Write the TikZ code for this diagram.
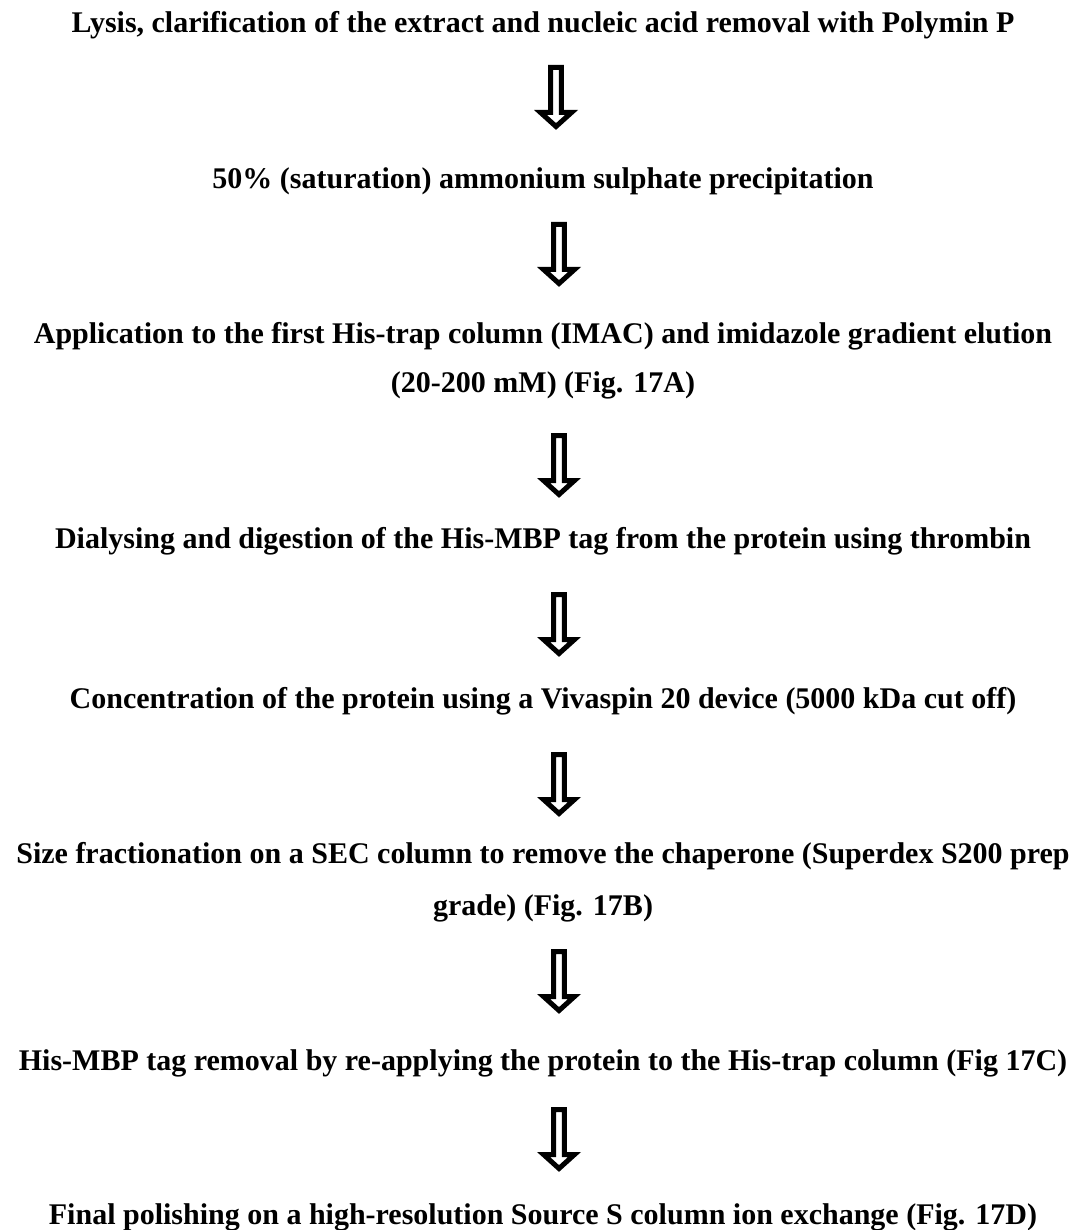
\documentclass[tikz,border=0pt]{standalone}
\usepackage{fontspec}
\setmainfont{Liberation Serif}
\begin{document}
\begin{tikzpicture}[x=1pt,y=-1pt,
  txt/.style={anchor=base, inner sep=0pt, font=\bfseries\fontsize{30}{33}\selectfont},
  flowarrow/.pic={\draw[line width=5, fill=white, line join=miter, miter limit=10]
     (-5.35,2.5) -- (-5.35,47.5) -- (-15.5,47.5) -- (0,61.5) -- (15.5,47.5) -- (5.35,47.5) -- (5.35,2.5) -- cycle;}]
\fill[white] (0,0) rectangle (1086,1230);
\useasboundingbox (0,0) rectangle (1086,1230);
\node[txt] (s1) at (543,33) {Lysis, clarification of the extract and nucleic acid removal with Polymin P};
\node[txt] (s2) at (543,189) {50\% (saturation) ammonium sulphate precipitation};
\node[txt] (s3a) at (543,343) {Application to the first His-trap column (IMAC) and imidazole gradient elution};
\node[txt] (s3b) at (543,392) {(20-200 mM) (Fig. 17A)};
\node[txt] (s4) at (543,548) {Dialysing and digestion of the His-MBP tag from the protein using thrombin};
\node[txt] (s5) at (543,708) {Concentration of the protein using a Vivaspin 20 device (5000 kDa cut off)};
\node[txt] (s6a) at (543,863) {Size fractionation on a SEC column to remove the chaperone (Superdex S200 prep};
\node[txt] (s6b) at (543,915) {grade) (Fig. 17B)};
\node[txt] (s7) at (543,1070) {His-MBP tag removal by re-applying the protein to the His-trap column (Fig 17C)};
\node[txt] (s8) at (543,1224) {Final polishing on a high-resolution Source S column ion exchange (Fig. 17D)};
\pic at (556,65) {flowarrow};
\pic at (559,222) {flowarrow};
\pic at (559,433) {flowarrow};
\pic at (559,592) {flowarrow};
\pic at (559,752) {flowarrow};
\pic at (559,949) {flowarrow};
\pic at (559,1107) {flowarrow};
\end{tikzpicture}
\end{document}
